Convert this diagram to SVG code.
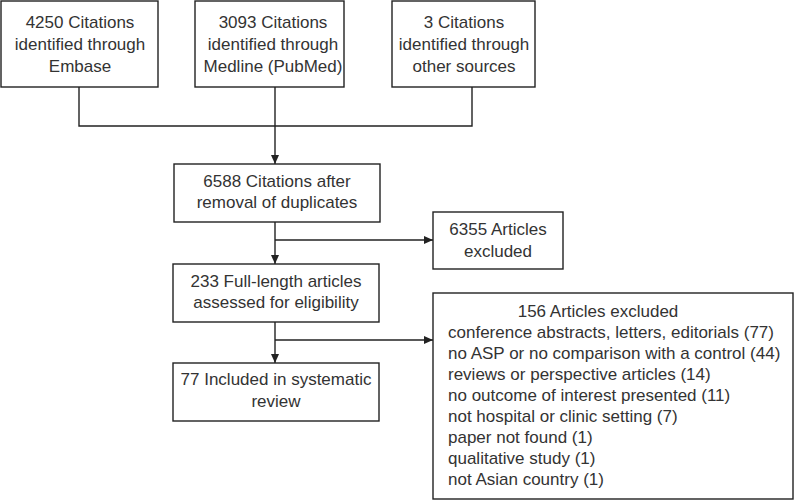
<svg xmlns="http://www.w3.org/2000/svg" width="794" height="501" viewBox="0 0 794 501">
<style>
.box{fill:#fff;stroke:#222;stroke-width:1.4}
.t{font-family:"Liberation Sans",Arial,sans-serif;font-size:17px;fill:#333}
.c{text-anchor:middle}
.ln{fill:none;stroke:#222;stroke-width:1.4}
</style>
<defs>
<marker id="ah" markerWidth="10" markerHeight="10" refX="9" refY="5" orient="auto" markerUnits="userSpaceOnUse">
<path d="M0,1 L9,5 L0,9 Z" fill="#222"/>
</marker>
</defs>
<rect width="794" height="501" fill="#fff"/>
<g id="connectors">
<polyline class="ln" points="79,87 79,126 472,126 472,87"/>
<line class="ln" x1="275" y1="87" x2="275" y2="164" marker-end="url(#ah)"/>
<line class="ln" x1="275" y1="222" x2="275" y2="264" marker-end="url(#ah)"/>
<line class="ln" x1="275" y1="240" x2="433" y2="240" marker-end="url(#ah)"/>
<line class="ln" x1="275" y1="322" x2="275" y2="363" marker-end="url(#ah)"/>
<line class="ln" x1="275" y1="340" x2="433" y2="340" marker-end="url(#ah)"/>
</g>
<g id="n1">
<rect class="box" x="1" y="1" width="157" height="86"/>
<text class="t c" x="80" y="28">4250 Citations</text>
<text class="t c" x="80" y="50">identified through</text>
<text class="t c" x="80" y="72">Embase</text>
</g>
<g id="n2">
<rect class="box" x="195" y="1" width="149" height="86"/>
<text class="t c" x="273" y="28">3093 Citations</text>
<text class="t c" x="273" y="50">identified through</text>
<text class="t c" x="273" y="72">Medline (PubMed)</text>
</g>
<g id="n3">
<rect class="box" x="392" y="1" width="143" height="86"/>
<text class="t c" x="464" y="28">3 Citations</text>
<text class="t c" x="464" y="50">identified through</text>
<text class="t c" x="464" y="72">other sources</text>
</g>
<g id="n4">
<rect class="box" x="174" y="164" width="206" height="58"/>
<text class="t c" x="277" y="187">6588 Citations after</text>
<text class="t c" x="277" y="208">removal of duplicates</text>
</g>
<g id="n5">
<rect class="box" x="433" y="212" width="130" height="57"/>
<text class="t c" x="498" y="235">6355 Articles</text>
<text class="t c" x="498" y="257">excluded</text>
</g>
<g id="n6">
<rect class="box" x="173" y="264" width="206" height="58"/>
<text class="t c" x="276" y="287">233 Full-length articles</text>
<text class="t c" x="276" y="308">assessed for eligibility</text>
</g>
<g id="n7">
<rect class="box" x="173" y="363" width="206" height="58"/>
<text class="t c" x="276" y="385">77 Included in systematic</text>
<text class="t c" x="276" y="407">review</text>
</g>
<g id="n8">
<rect class="box" x="433" y="293" width="360" height="206"/>
<text class="t c" x="598" y="317">156 Articles excluded</text>
<text class="t" x="448" y="338">conference abstracts, letters, editorials (77)</text>
<text class="t" x="448" y="359">no ASP or no comparison with a control (44)</text>
<text class="t" x="448" y="380">reviews or perspective articles (14)</text>
<text class="t" x="448" y="401">no outcome of interest presented (11)</text>
<text class="t" x="448" y="422">not hospital or clinic setting (7)</text>
<text class="t" x="448" y="443">paper not found (1)</text>
<text class="t" x="448" y="464">qualitative study (1)</text>
<text class="t" x="448" y="485">not Asian country (1)</text>
</g>
</svg>
